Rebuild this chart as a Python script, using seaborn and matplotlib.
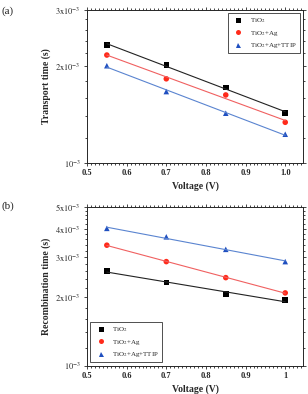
import numpy as np
import pandas as pd
import matplotlib
matplotlib.use("Agg")
import matplotlib.pyplot as plt
from matplotlib.ticker import FixedLocator, MultipleLocator, NullFormatter
import seaborn as sns

# Data
voltage = [0.55, 0.70, 0.85, 1.00]
samples = ["TiO$_2$", "TiO$_2$+Ag", "TiO$_2$+Ag+TTIP"]

transport_tio2 = [2.33e-3, 2.02e-3, 1.72e-3, 1.43e-3]
transport_ag = [2.17e-3, 1.83e-3, 1.63e-3, 1.34e-3]
transport_ttip = [2.01e-3, 1.67e-3, 1.43e-3, 1.23e-3]

recomb_tio2 = [2.61e-3, 2.32e-3, 2.07e-3, 1.94e-3]
recomb_ag = [3.39e-3, 2.87e-3, 2.44e-3, 2.09e-3]
recomb_ttip = [4.02e-3, 3.69e-3, 3.25e-3, 2.87e-3]

transport_ticks = [1e-3, 2e-3, 3e-3]
transport_labels = [r"$10^{-3}$", r"$2\mathrm{x}10^{-3}$", r"$3\mathrm{x}10^{-3}$"]
recomb_ticks = [1e-3, 2e-3, 3e-3, 4e-3, 5e-3]
recomb_labels = [r"$10^{-3}$", r"$2\mathrm{x}10^{-3}$", r"$3\mathrm{x}10^{-3}$",
                 r"$4\mathrm{x}10^{-3}$", r"$5\mathrm{x}10^{-3}$"]
recomb_xlabels = ["0.5", "0.6", "0.7", "0.8", "0.9", "1"]

sns.set_style("ticks")
plt.rcParams["font.family"] = ["Liberation Serif", "DejaVu Serif"]
plt.rcParams["mathtext.fontset"] = "stix"

palette = {samples[0]: "black", samples[1]: "#ff2a1a", samples[2]: "#1f4fc0"}
line_colors = {samples[0]: "#222222", samples[1]: "#f06060", samples[2]: "#5a84d0"}
markers = {samples[0]: "s", samples[1]: "o", samples[2]: "^"}


def make_df(a, b, c):
    rows = []
    for name, vals in zip(samples, [a, b, c]):
        for v, t in zip(voltage, vals):
            rows.append({"Voltage": v, "time": t, "Sample": name})
    return pd.DataFrame(rows)


def fit_df(df):
    # exponential fit -> straight line on the log axis
    rows = []
    for name, g in df.groupby("Sample", sort=False):
        k, b0 = np.polyfit(g["Voltage"], np.log10(g["time"]), 1)
        for v in [voltage[0], voltage[-1]]:
            rows.append({"Voltage": v, "time": 10 ** (k * v + b0), "Sample": name})
    return pd.DataFrame(rows)


def draw(ax, df, ylim, ticks, labels, ylabel, legend_loc):
    fits = fit_df(df)
    sns.lineplot(data=fits, x="Voltage", y="time", hue="Sample", palette=line_colors,
                 linewidth=0.8, legend=False, ax=ax)
    sns.scatterplot(data=df, x="Voltage", y="time", hue="Sample", style="Sample",
                    palette=palette, markers=markers, s=16, edgecolor="none", ax=ax)
    ax.set_yscale("log")
    ax.set_ylim(*ylim)
    ax.set_xlim(0.5, 1.045)
    ax.yaxis.set_major_locator(FixedLocator(ticks))
    ax.set_yticklabels(labels)
    ax.yaxis.set_minor_locator(FixedLocator(np.arange(1e-3, ylim[1], 0.2e-3)))
    ax.yaxis.set_minor_formatter(NullFormatter())
    ax.xaxis.set_major_locator(MultipleLocator(0.1))
    ax.xaxis.set_minor_locator(MultipleLocator(0.01))
    ax.tick_params(which="both", direction="out", top=True, right=True,
                   labelsize=6, width=0.6, pad=2)
    ax.tick_params(which="major", length=2.5)
    ax.tick_params(which="minor", length=1.3)
    for lab in ax.get_xticklabels() + ax.get_yticklabels():
        lab.set_fontweight("bold")
    for s in ax.spines.values():
        s.set_linewidth(0.7)
    ax.set_xlabel("Voltage (V)", fontsize=7, fontweight="bold", labelpad=3)
    ax.set_ylabel(ylabel, fontsize=7, fontweight="bold", labelpad=3)
    leg = ax.legend(loc=legend_loc, fontsize=5, frameon=True, fancybox=False,
                    edgecolor="black", markerscale=0.9, handletextpad=0.6,
                    borderpad=0.45, labelspacing=0.5)
    leg.get_frame().set_linewidth(0.6)


fig = plt.figure(figsize=(3.08, 3.94), dpi=100)
ax1 = fig.add_axes([0.2825, 0.586, 0.7015, 0.389])
ax2 = fig.add_axes([0.2825, 0.072, 0.7015, 0.403])

draw(ax1, make_df(transport_tio2, transport_ag, transport_ttip), (1e-3, 3e-3),
     transport_ticks, transport_labels, "Transport time (s)", "upper right")
draw(ax2, make_df(recomb_tio2, recomb_ag, recomb_ttip), (1e-3, 5e-3),
     recomb_ticks, recomb_labels, "Recombination time (s)", "lower left")
ax2.set_xticks([0.5, 0.6, 0.7, 0.8, 0.9, 1.0])
ax2.set_xticklabels(recomb_xlabels)
for lab in ax2.get_xticklabels():
    lab.set_fontweight("bold")

fig.text(0.005, 0.985, "(a)", fontsize=8, va="top")
fig.text(0.005, 0.49, "(b)", fontsize=8, va="top")

plt.savefig("out.png", dpi=100)
plt.close()
